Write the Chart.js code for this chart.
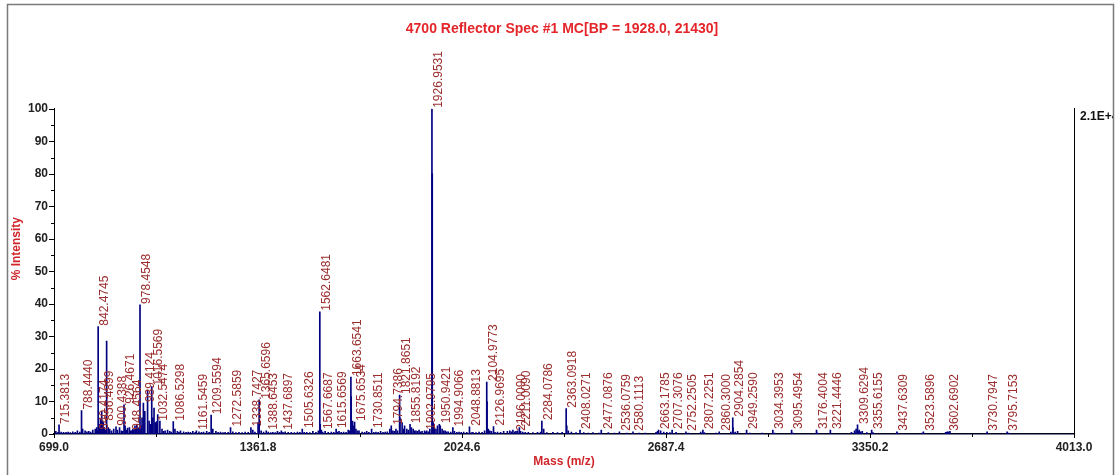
<!DOCTYPE html>
<html><head><meta charset="utf-8">
<script src="https://cdn.jsdelivr.net/npm/chart.js@4.4.1/dist/chart.umd.min.js"></script>
<style>html,body{margin:0;padding:0;background:#fff;} #wrap{position:relative;width:1116px;height:475px;}</style>
</head><body><div id="wrap"><canvas id="c" width="1116" height="475"></canvas></div>
<script>
const titleText = '4700 Reflector Spec #1 MC[BP = 1928.0, 21430]';
const xAxisTitle = 'Mass (m/z)';
const yAxisTitle = '% Intensity';
const rightAxisLabel = '2.1E+4';
const xTickValues = [699.0, 1361.8, 2024.6, 2687.4, 3350.2, 4013.0];
const yTickValues = [0, 10, 20, 30, 40, 50, 60, 70, 80, 90, 100];

// labelled peaks (m/z) and their % intensity
const labeledMass = [715.3813, 788.4440, 840.4174, 842.4745, 856.4899, 900.4388, 926.4671, 948.4564, 978.4548, 989.4124,
  1016.5569, 1032.5474, 1086.5298, 1161.5459, 1209.5594, 1272.5859, 1338.7427, 1365.6596, 1388.6453, 1437.6897,
  1505.6326, 1562.6481, 1567.6687, 1615.6569, 1663.6541, 1675.6534, 1730.8511, 1794.7386, 1821.8651, 1855.8192,
  1902.9795, 1926.9531, 1950.9421, 1994.9066, 2048.8813, 2104.9773, 2126.9695, 2196.0090, 2211.0090, 2284.0786,
  2363.0918, 2408.0271, 2477.0876, 2536.0759, 2580.1113, 2663.1785, 2707.3076, 2752.2505, 2807.2251, 2860.3000,
  2904.2854, 2949.2590, 3034.3953, 3095.4954, 3176.4004, 3221.4446, 3309.6294, 3355.6155, 3437.6309, 3523.5896,
  3602.6902, 3730.7947, 3795.7153];
const labeledIntensity = [2.8, 7.2, 1.0, 33.0, 3.8, 2.2, 9.0, 1.0, 39.7, 9.5,
  14.6, 3.8, 3.8, 1.0, 5.8, 2.0, 2.0, 10.5, 1.0, 1.0,
  1.5, 37.6, 1.2, 1.5, 17.5, 3.7, 1.5, 2.5, 12.0, 3.0,
  1.0, 100.0, 3.0, 2.0, 2.2, 16.0, 2.3, 0.7, 2.0, 4.0,
  7.8, 1.2, 1.2, 0.7, 0.7, 1.2, 1.2, 0.7, 1.2, 0.7,
  5.0, 1.2, 1.2, 1.2, 1.2, 1.2, 2.8, 1.2, 0.7, 0.7,
  0.7, 0.7, 0.7];

// unlabelled peaks (isotopes, minor ions, baseline noise)
const minorMass = [705, 712, 722, 730, 738, 745, 752, 760, 768, 775, 783, 792, 800, 806, 812, 818, 825, 833, 838, 846,
  850, 854, 859, 862, 866, 870, 875, 880, 886, 893, 905, 912, 918, 922, 930, 934, 938, 944, 952, 955,
  958, 962, 965, 968, 972, 975, 982, 985, 994, 1003, 1008, 1012, 1020, 1024, 1028, 1036, 1043, 1050, 1055, 1060,
  1068, 1075, 1080, 1092, 1100, 1105, 1110, 1120, 1128, 1135, 1142, 1150, 1158, 1170, 1178, 1185, 1195, 1203, 1215, 1225,
  1232, 1240, 1248, 1255, 1265, 1280, 1290, 1300, 1310, 1320, 1330, 1345, 1352, 1362, 1372, 1380, 1395, 1403, 1410, 1418,
  1425, 1432, 1443, 1450, 1460, 1470, 1480, 1490, 1498, 1512, 1520, 1530, 1540, 1550, 1558, 1564, 1572, 1580, 1590, 1600,
  1608, 1620, 1625, 1632, 1640, 1648, 1655, 1660, 1664.6, 1669, 1672, 1680, 1685, 1690, 1700, 1708, 1715, 1722, 1738, 1745,
  1752, 1760, 1768, 1775, 1782, 1790, 1800, 1805, 1810, 1815, 1823, 1830, 1834, 1838, 1845, 1850, 1860, 1866, 1870, 1875,
  1880, 1885, 1890, 1895, 1905, 1910, 1915, 1920, 1927.95, 1931, 1935, 1940, 1945, 1954, 1960, 1965, 1970, 1975, 1980, 1988,
  2000, 2008, 2015, 2022, 2030, 2040, 2055, 2060, 2070, 2080, 2090, 2098, 2106, 2110, 2115, 2120, 2132, 2140, 2150, 2160,
  2172, 2180, 2185, 2190, 2200, 2205, 2215, 2222, 2230, 2240, 2255, 2270, 2280, 2290, 2300, 2320, 2335, 2350, 2365, 2370,
  2380, 2395, 2420, 2435, 2450, 2470, 2500, 2520, 2560, 2600, 2620, 2655, 2660, 2670, 2680, 2690, 2700, 2720, 2760, 2800,
  2812, 2850, 2898, 2905, 2912, 2920, 2960, 3000, 3040, 3100, 3180, 3290, 3300, 3305, 3312, 3315, 3320, 3325, 3340, 3360,
  3440, 3520, 3596, 3600, 3606, 3610, 3730, 3800];
const minorIntensity = [0.8, 0.5, 0.6, 0.5, 0.5, 0.6, 0.4, 0.7, 0.5, 1.0, 0.6, 1.5, 1.0, 0.7, 0.8, 0.6, 1.2, 1.5, 2.0, 3.0,
  4.5, 7.0, 3.5, 2.0, 1.2, 28.6, 2.0, 1.5, 1.0, 1.5, 1.2, 2.0, 1.0, 0.8, 2.5, 1.2, 1.8, 2.0, 1.0, 1.5,
  1.2, 2.5, 1.5, 3.0, 2.0, 1.5, 2.5, 5.0, 7.0, 13.5, 4.0, 3.0, 5.0, 8.0, 3.5, 6.0, 4.0, 1.5, 0.8, 1.0,
  1.2, 0.8, 0.6, 1.5, 0.8, 0.5, 1.0, 0.7, 0.5, 0.6, 0.5, 0.8, 0.5, 0.7, 0.5, 0.6, 0.8, 0.5, 1.5, 0.8,
  0.5, 0.6, 0.4, 0.5, 0.5, 0.7, 0.4, 0.5, 0.4, 0.6, 0.5, 1.2, 0.6, 3.5, 1.0, 0.6, 0.6, 0.4, 0.5, 0.4,
  0.8, 0.5, 0.5, 0.7, 0.5, 0.5, 0.4, 0.6, 0.5, 0.5, 0.5, 0.4, 0.8, 0.5, 1.0, 3.0, 0.6, 0.8, 0.5, 0.6,
  0.5, 0.6, 0.8, 0.5, 0.6, 0.5, 1.2, 1.0, 11.5, 4.0, 2.5, 1.5, 1.0, 1.0, 0.6, 0.5, 0.8, 0.5, 0.5, 0.6,
  0.5, 0.8, 0.5, 0.6, 0.7, 1.5, 1.0, 0.8, 1.5, 1.0, 5.0, 3.5, 1.5, 2.5, 1.5, 1.2, 2.0, 1.5, 1.0, 1.0,
  0.8, 1.2, 0.7, 0.8, 0.6, 1.0, 0.7, 1.5, 80.0, 3.5, 2.0, 1.5, 2.5, 2.5, 1.5, 1.0, 1.0, 0.7, 0.7, 0.6,
  0.8, 0.5, 0.6, 0.5, 0.6, 0.5, 0.4, 0.5, 0.4, 0.6, 0.5, 1.0, 10.0, 1.5, 1.0, 0.8, 0.5, 0.6, 0.5, 0.8,
  0.8, 1.0, 0.7, 1.2, 0.8, 1.0, 0.8, 0.6, 0.5, 0.5, 0.4, 0.5, 0.6, 1.5, 0.4, 0.5, 0.4, 0.5, 2.5, 1.0,
  0.6, 0.4, 0.4, 0.3, 0.4, 0.3, 0.4, 0.3, 0.3, 0.3, 0.3, 0.5, 0.8, 1.0, 0.6, 0.5, 0.4, 0.5, 0.3, 0.6,
  0.4, 0.3, 0.6, 2.0, 0.6, 0.8, 0.3, 0.3, 0.3, 0.3, 0.3, 0.5, 1.0, 1.5, 0.8, 1.2, 0.7, 0.8, 0.4, 0.4,
  0.3, 0.3, 0.5, 0.6, 0.6, 0.8, 0.3, 0.3];

const FONT = "'Liberation Sans', Arial, sans-serif";
const peakColor = '#000080';
const labelColor = '#9b2d2d';
const axisTitleColor = '#d0262b';

const tickMarks = {
  id: 'tickMarks',
  afterDraw(chart) {
    const ctx = chart.ctx, xs = chart.scales.x, ys = chart.scales.y;
    ctx.save();
    ctx.strokeStyle = '#000';
    ctx.lineWidth = 1;
    ctx.beginPath();
    for (let v = 0; v <= 100; v += 5) {
      const py = Math.round(ys.getPixelForValue(v)) + 0.5;
      const len = (v % 10 === 0) ? 5 : 3;
      ctx.moveTo(xs.left - len, py); ctx.lineTo(xs.left, py);
    }
    for (let i = 0; i < xTickValues.length; i++) {
      const px = Math.round(xs.getPixelForValue(xTickValues[i])) + 0.5;
      ctx.moveTo(px, ys.bottom); ctx.lineTo(px, ys.bottom + 4);
      if (i < xTickValues.length - 1) {
        const pm = Math.round(xs.getPixelForValue((xTickValues[i] + xTickValues[i + 1]) / 2)) + 0.5;
        ctx.moveTo(pm, ys.bottom); ctx.lineTo(pm, ys.bottom + 3);
      }
    }
    ctx.stroke();
    // y axis title
    ctx.fillStyle = axisTitleColor;
    ctx.font = 'bold 12px ' + FONT;
    ctx.textAlign = 'center';
    ctx.textBaseline = 'middle';
    ctx.translate(17, ys.getPixelForValue(57));
    ctx.rotate(-Math.PI / 2);
    ctx.fillText(yAxisTitle, 0, 0);
    ctx.restore();
  }
};

const peakLabels = {
  id: 'peakLabels',
  afterDatasetsDraw(chart) {
    const ctx = chart.ctx, xs = chart.scales.x, ys = chart.scales.y;
    ctx.save();
    ctx.font = '12px ' + FONT;
    ctx.fillStyle = labelColor;
    ctx.textAlign = 'left';
    ctx.textBaseline = 'top';
    for (let i = 0; i < labeledMass.length; i++) {
      const px = xs.getPixelForValue(labeledMass[i]);
      const py = ys.getPixelForValue(labeledIntensity[i]);
      ctx.save();
      ctx.translate(px + 1, py - 1);
      ctx.rotate(-Math.PI / 2);
      ctx.fillText(labeledMass[i].toFixed(4), 0, 0);
      ctx.restore();
    }
    ctx.restore();
  }
};

const frame = {
  id: 'frame',
  afterDraw(chart) {
    const ctx = chart.ctx;
    ctx.save();
    ctx.fillStyle = '#fff';
    ctx.fillRect(1114, 0, 2, 475);
    ctx.strokeStyle = '#7a7a7a';
    ctx.lineWidth = 1.5;
    ctx.beginPath();
    ctx.moveTo(7.5, 475); ctx.lineTo(7.5, 4.5); ctx.lineTo(1113.5, 4.5); ctx.lineTo(1113.5, 475);
    ctx.stroke();
    ctx.restore();
  }
};

const points = [];
for (let i = 0; i < minorMass.length; i++) points.push({x: minorMass[i], y: minorIntensity[i]});
const labeledPoints = [];
for (let i = 0; i < labeledMass.length; i++) labeledPoints.push({x: labeledMass[i], y: labeledIntensity[i]});

new Chart(document.getElementById('c'), {
  type: 'bar',
  data: {
    datasets: [
      {data: points, backgroundColor: peakColor, borderWidth: 0, barThickness: 1, grouped: false},
      {data: labeledPoints, backgroundColor: peakColor, borderWidth: 0, barThickness: 1, grouped: false}
    ]
  },
  options: {
    responsive: false,
    animation: false,
    devicePixelRatio: 1,
    layout: {padding: {left: 8, right: 0, top: 0, bottom: 4}},
    plugins: {
      legend: {display: false},
      tooltip: {enabled: false},
      title: {
        display: true, text: titleText, color: '#e4262b',
        font: {family: FONT, size: 14, weight: 'bold'},
        padding: {top: 21, bottom: 71}
      }
    },
    scales: {
      x: {
        type: 'linear', min: 699, max: 4013, offset: false,
        grid: {display: false, drawTicks: false},
        border: {display: true, color: '#000020', width: 1.5},
        afterBuildTicks: s => { s.ticks = xTickValues.map(v => ({value: v})); },
        ticks: {
          callback: v => Number(v).toFixed(1), autoSkip: false, maxRotation: 0,
          color: '#222', padding: 6, font: {family: FONT, size: 12, weight: 'bold'}
        },
        title: {display: true, text: xAxisTitle, color: axisTitleColor,
          font: {family: FONT, size: 12, weight: 'bold'}, padding: {top: 2, bottom: 2}},
        afterFit: s => { s.height = 37; }
      },
      y: {
        type: 'linear', min: 0, max: 100, position: 'left',
        grid: {display: false, drawTicks: false},
        border: {display: true, color: '#000', width: 1},
        afterBuildTicks: s => { s.ticks = yTickValues.map(v => ({value: v})); },
        ticks: {color: '#222', padding: 6, font: {family: FONT, size: 12, weight: 'bold'}},
        title: {display: false, text: yAxisTitle},
        afterFit: s => { s.width = 46; }
      },
      y2: {
        type: 'linear', min: 0, max: 100, position: 'right',
        grid: {display: false, drawTicks: false},
        border: {display: true, color: '#000', width: 1},
        afterBuildTicks: s => { s.ticks = [{value: 100}]; },
        ticks: {callback: () => rightAxisLabel, color: '#111', padding: 6, labelOffset: 8,
          font: {family: FONT, size: 12, weight: 'bold'}},
        afterFit: s => { s.width = 42; }
      }
    }
  },
  plugins: [tickMarks, peakLabels, frame]
});
</script>
</body></html>
